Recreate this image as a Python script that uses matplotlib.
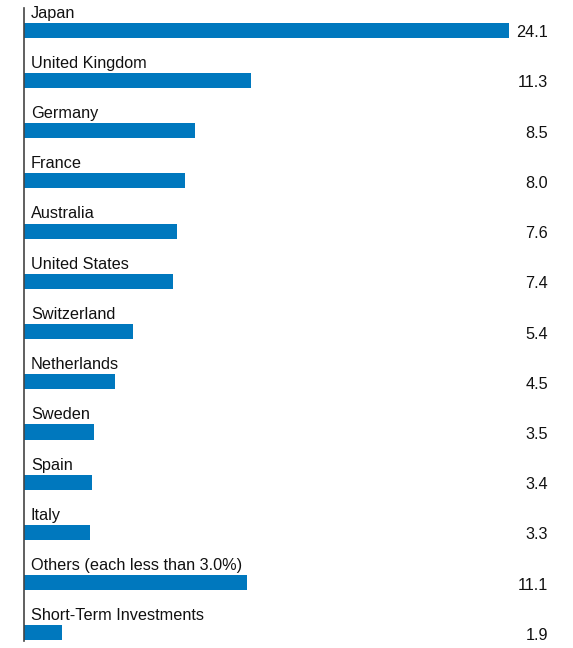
import matplotlib.pyplot as plt
from matplotlib.transforms import blended_transform_factory

countries = ["Japan", "United Kingdom", "Germany", "France", "Australia",
             "United States", "Switzerland", "Netherlands", "Sweden", "Spain",
             "Italy", "Others (each less than 3.0%)", "Short-Term Investments"]
values = [24.1, 11.3, 8.5, 8.0, 7.6, 7.4, 5.4, 4.5, 3.5, 3.4, 3.3, 11.1, 1.9]

plt.rcParams["font.family"] = ["Liberation Sans", "DejaVu Sans"]

fig = plt.figure(figsize=(5.73, 6.48), dpi=100)
ax = fig.add_axes([24 / 573, 7 / 648, 541 / 573, 633 / 648])

ypos = list(range(len(values)))
ax.barh(ypos, values, height=0.3, color="#0078BE", left=0)
ax.set_xlim(0, 541 / 20.12)
ax.set_ylim(12.16, -0.44)

tr = blended_transform_factory(ax.transAxes, ax.transData)
for y, name, v in zip(ypos, countries, values):
    ax.text(7 / 541, y - 0.25, name, transform=tr, fontsize=11.7,
            ha="left", va="baseline", color="#111111")
    ax.text(524 / 541, y + 0.05, f"{v:.1f}", transform=tr, fontsize=11.7,
            ha="right", va="center", color="#111111")

for s in ["top", "right", "bottom"]:
    ax.spines[s].set_visible(False)
ax.spines["left"].set_color("#444444")
ax.spines["left"].set_linewidth(1.2)
ax.set_xticks([])
ax.set_yticks([])

fig.savefig("out.png", dpi=100)
